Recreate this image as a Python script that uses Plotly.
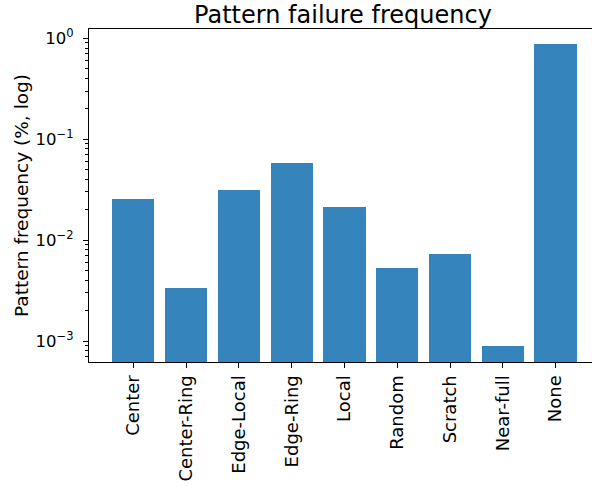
import plotly.graph_objects as go

categories = ["Center", "Center-Ring", "Edge-Local", "Edge-Ring", "Local",
              "Random", "Scratch", "Near-full", "None"]
frequency = [0.0254, 0.00332, 0.0312, 0.0582, 0.0211, 0.00524, 0.00721, 0.000886, 0.885]
ytick_vals = [0.001, 0.01, 0.1, 1]
ytick_text = ["10<sup>−3</sup>", "10<sup>−2</sup>", "10<sup>−1</sup>", "10<sup>0</sup>"]

FONT = "DejaVu Sans"
YRANGE = [-3.208, 0.092]
minor_vals = [m * 10.0 ** e for e in range(-4, 1) for m in range(2, 10)]

fig = go.Figure()
fig.add_trace(go.Bar(
    x=list(range(len(categories))),
    y=frequency,
    width=0.8,
    marker=dict(color="rgb(53,133,188)", line=dict(width=0)),
))
# helper trace so that the minor-tick axis is drawn
fig.add_trace(go.Scatter(x=[None], y=[None], yaxis="y2", mode="markers",
                         showlegend=False, hoverinfo="skip"))

fig.update_layout(
    width=592, height=486,
    margin=dict(l=89, r=0, t=29, b=124.3),
    plot_bgcolor="white", paper_bgcolor="white",
    showlegend=False,
    font=dict(family=FONT, size=18, color="black"),
    title=dict(text="Pattern failure frequency", x=343/592, xanchor="center",
               y=1 - 23/486, yanchor="bottom", yref="container",
               font=dict(family=FONT, size=24, color="black")),
    bargap=0,
    yaxis2=dict(
        overlaying="y", side="left", anchor="x", type="log", range=YRANGE,
        tickmode="array", tickvals=minor_vals, showticklabels=False,
        ticks="outside", ticklen=3, tickwidth=0.8, tickcolor="black",
        showline=False, showgrid=False, zeroline=False,
    ),
)

fig.update_xaxes(
    range=[-0.84, 8.69],
    tickmode="array", tickvals=list(range(len(categories))), ticktext=categories,
    tickangle=-90, ticks="outside", ticklen=5, tickwidth=1.1, tickcolor="black",
    showline=True, linecolor="black", linewidth=1.1, mirror=True,
    showgrid=False, zeroline=False,
    tickfont=dict(family=FONT, size=18, color="black"),
)

fig.layout.yaxis.update(
    type="log", range=YRANGE,
    tickmode="array", tickvals=ytick_vals, ticktext=ytick_text,
    ticks="outside", ticklen=5, tickwidth=1.1, tickcolor="black",
    ticklabelstandoff=6,
    showline=True, linecolor="black", linewidth=1.1, mirror=False,
    showgrid=False, zeroline=False,
    tickfont=dict(family=FONT, size=16.5, color="black"),
    title=dict(text="Pattern frequency (%, log)", standoff=2,
               font=dict(family=FONT, size=18.5, color="black")),
)

fig.write_html("out.html")
